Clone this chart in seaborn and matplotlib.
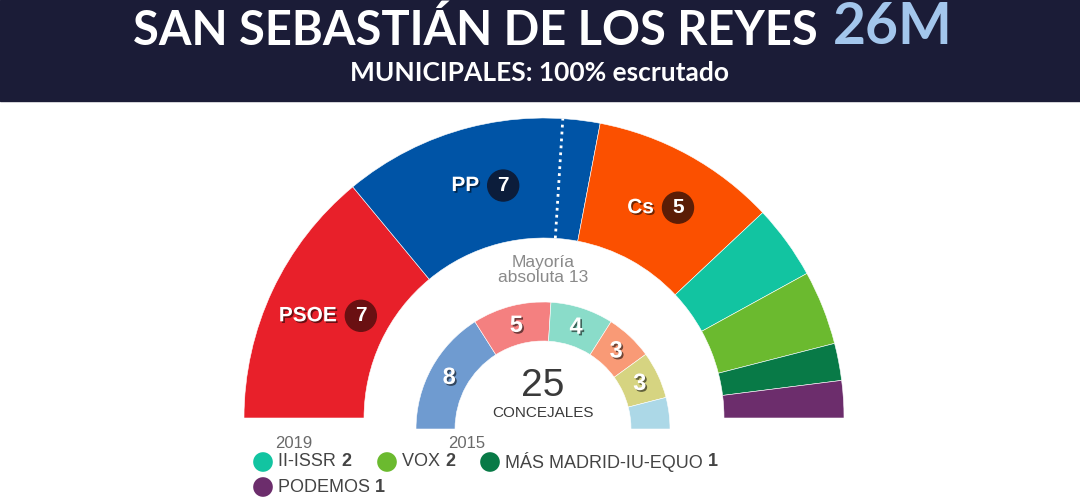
import numpy as np
import pandas as pd
import seaborn as sns
import matplotlib.pyplot as plt
import matplotlib.patches as mpatches
import matplotlib.patheffects as pe

"""Data"""

parties_2019 = ['PSOE', 'PP', 'Cs', 'II-ISSR', 'VOX', 'MÁS MADRID-IU-EQUO', 'PODEMOS']
seats_2019 = [7, 7, 5, 2, 2, 1, 1]
colors_2019 = ['#e8202a', '#0054a6', '#fb5000', '#12c4a1', '#6bba2f', '#087a47', '#6c2d6c']
badge_colors = ['#6a1012', '#0c1d3b', '#5b1d06']
labelled_2019 = ['PSOE', 'PP', 'Cs']

seats_2015 = [8, 5, 4, 3, 3, 2]
colors_2015 = ['#6f9bd0', '#f48080', '#8adcc9', '#f99a76', '#d6d481', '#acd8e7']
labels_2015 = ['8', '5', '4', '3', '3', '']

legend_parties = ['II-ISSR', 'VOX', 'MÁS MADRID-IU-EQUO', 'PODEMOS']
total_seats = 25
majority = 13

"""Style"""

sns.set_theme(style="white")
plt.rcParams['font.family'] = ['Liberation Sans', 'DejaVu Sans']

fig = plt.figure(figsize=(10.8, 5), dpi=100)
ax = fig.add_axes([0, 0, 1, 1])
ax.set_xlim(0, 1080)
ax.set_ylim(500, 0)
ax.axis('off')

shadow = [pe.withSimplePatchShadow(offset=(1.2, -1.2), shadow_rgbFace='black', alpha=0.55)]

"""Banner"""

ax.add_patch(mpatches.Rectangle((0, 0), 1080, 101, color='#1b1c37', zorder=1))
ax.text(818, 31, 'SAN SEBASTIÁN DE LOS REYES', ha='right', va='center', color='white',
        fontsize=33.8, family='Lato', fontweight='bold', zorder=2)
ax.text(833, 27, '26M', ha='left', va='center', color='#a3c6ec',
        fontsize=41, family='Lato', fontweight='bold', zorder=2)
ax.text(540, 73, 'MUNICIPALES: 100% escrutado', ha='center', va='center', color='white',
        fontsize=19, family='Lato', fontweight='bold', zorder=2)

"""Outer ring 2019"""

cx, cy, r_out, r_in = 544, 418, 300, 180
edges = np.concatenate([[0], np.cumsum(seats_2019)]) / total_seats * 180
for i, party in enumerate(parties_2019):
    a1, a2 = 180 - edges[i], 180 - edges[i + 1]
    ax.add_patch(mpatches.Wedge((cx, cy), r_out, -a1, -a2, width=r_out - r_in,
                                facecolor=colors_2019[i], edgecolor='white', linewidth=0.4, zorder=3))
    if party in labelled_2019:
        mid = np.radians((a1 + a2) / 2)
        mx, my = cx + 240 * np.cos(mid), cy - 240 * np.sin(mid)
        t = ax.text(mx - 19, my, party, ha='center', va='center', color='white',
                    fontsize=15, fontweight='bold', zorder=5, path_effects=shadow)
        fig.canvas.draw()
        w = t.get_window_extent().width
        bx = mx + w / 2 + 5
        j = labelled_2019.index(party)
        ax.add_patch(mpatches.Circle((bx, my), 15.5, color=badge_colors[j], zorder=5))
        ax.text(bx, my, str(seats_2019[i]), ha='center', va='center', color='white',
                fontsize=15, fontweight='bold', zorder=6)

# majority line
am = np.radians(180 - majority / total_seats * 180)
ax.plot([cx + r_in * np.cos(am), cx + r_out * np.cos(am)],
        [cy - r_in * np.sin(am), cy - r_out * np.sin(am)],
        color='white', linestyle=(0, (1, 1.5)), linewidth=2, zorder=4)
ax.text(cx - 1, 262, 'Mayoría', ha='center', va='center', color='#8a8a8a', fontsize=12.5)
ax.text(cx - 1, 277, 'absoluta %d' % majority, ha='center', va='center', color='#8a8a8a', fontsize=12.5)

"""Inner ring 2015"""

ix, iy, ri_out, ri_in = 543, 429, 127, 88
edges15 = np.concatenate([[0], np.cumsum(seats_2015)]) / total_seats * 180
for i, v in enumerate(seats_2015):
    a1, a2 = 180 - edges15[i], 180 - edges15[i + 1]
    ax.add_patch(mpatches.Wedge((ix, iy), ri_out, -a1, -a2, width=ri_out - ri_in,
                                facecolor=colors_2015[i], edgecolor='white', linewidth=0.4, zorder=3))
    mid = np.radians((a1 + a2) / 2)
    ax.text(ix + 107 * np.cos(mid), iy - 107 * np.sin(mid), labels_2015[i], ha='center', va='center',
            color='white', fontsize=17, fontweight='bold', zorder=5, path_effects=shadow)

ax.text(ix, 386, str(total_seats), ha='center', va='center', color='#3a3a3a', fontsize=28)
ax.text(ix, 413, 'CONCEJALES', ha='center', va='center', color='#3a3a3a', fontsize=11)

ax.text(275, 443, '2019', ha='left', va='center', color='#6a6a6a', fontsize=12)
ax.text(448, 443, '2015', ha='left', va='center', color='#6a6a6a', fontsize=12)

"""Legend"""

leg_x = [263, 387, 490, 263]
leg_y = [462, 462, 462, 487]
leg_df = pd.DataFrame({'party': legend_parties, 'x': leg_x, 'y': leg_y})
pal = {p: colors_2019[parties_2019.index(p)] for p in legend_parties}
sns.scatterplot(data=leg_df, x='x', y='y', hue='party', palette=pal, s=200,
                linewidth=0, legend=False, ax=ax, zorder=5)
for _, row in leg_df.iterrows():
    n = seats_2019[parties_2019.index(row['party'])]
    t = ax.text(row['x'] + 15, row['y'], row['party'] + ' ', ha='left', va='center',
                color='#444444', fontsize=13)
    fig.canvas.draw()
    bb = t.get_window_extent()
    ax.text(row['x'] + 15 + bb.width, row['y'], str(n), ha='left', va='center',
            color='#444444', fontsize=13, fontweight='bold')
ax.set_xlim(0, 1080)
ax.set_ylim(500, 0)
ax.set_xlabel('')
ax.set_ylabel('')

fig.savefig('out.png', dpi=100)
